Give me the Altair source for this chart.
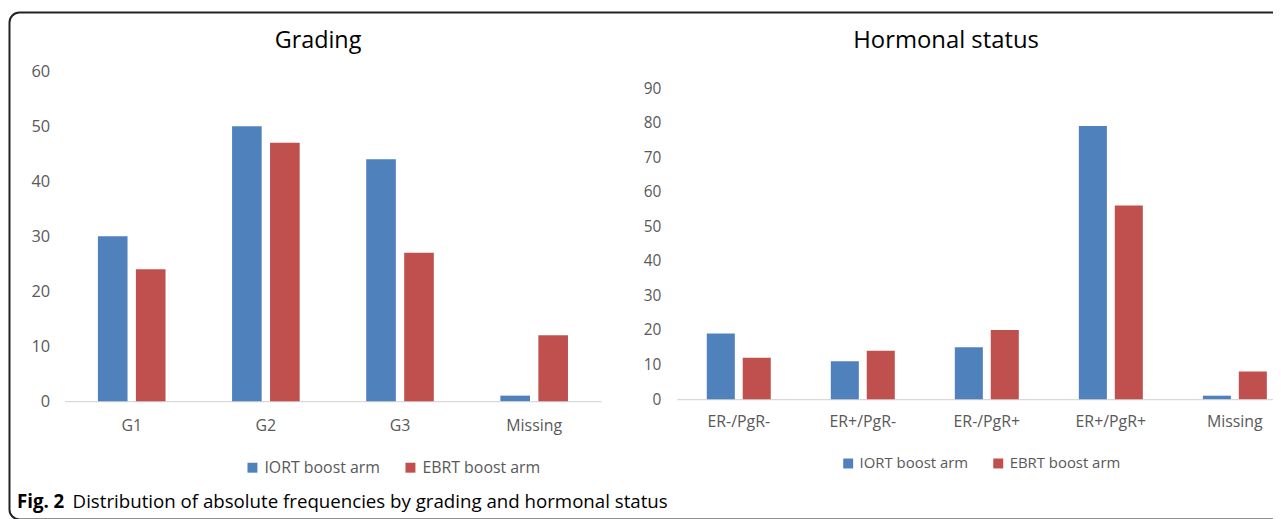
import altair as alt
import pandas as pd

# ---- data ----
ARMS = ["IORT boost arm", "EBRT boost arm"]
ARM_COLORS = ["#4F81BD", "#C0504D"]

GRADES = ["G1", "G2", "G3", "Missing"]
GRADE_IORT = [30, 50, 44, 1]
GRADE_EBRT = [24, 47, 27, 12]
GRADE_TICKS = [0, 10, 20, 30, 40, 50, 60]

HORMONES = ["ER-/PgR-", "ER+/PgR-", "ER-/PgR+", "ER+/PgR+", "Missing"]
HORM_IORT = [19, 11, 15, 79, 1]
HORM_EBRT = [12, 14, 20, 56, 8]
HORM_TICKS = [0, 10, 20, 30, 40, 50, 60, 70, 80, 90]

PANEL_TITLES = ["Grading", "Hormonal status"]
CAPTION_BOLD = ["Fig. 2"]
CAPTION_TEXT = ["Distribution of absolute frequencies by grading and hormonal status"]


def long_df(cats, a, b):
    rows = []
    for c, v in zip(cats, a):
        rows.append({"category": c, "arm": ARMS[0], "value": v})
    for c, v in zip(cats, b):
        rows.append({"category": c, "arm": ARMS[1], "value": v})
    return pd.DataFrame(rows)


grade_df = long_df(GRADES, GRADE_IORT, GRADE_EBRT)
horm_df = long_df(HORMONES, HORM_IORT, HORM_EBRT)

W, H = 1273, 511
FONT = "Open Sans"
LABEL = "#595959"


def panel(df, cats, ticks, xrange, yrange, ydomain, pin, xoff, yoff, xlab_pad, xlab_size,
          ylab_pad, ylab_size, leg_x, leg_y, leg_size, leg_pad):
    return alt.Chart(df).mark_bar().encode(
        x=alt.X("category:N", sort=cats,
                scale=alt.Scale(range=xrange, paddingInner=pin, paddingOuter=pin / 2),
                axis=alt.Axis(title=None, orient="bottom", offset=xoff, labelAngle=0,
                              labelPadding=xlab_pad, labelFontSize=xlab_size, labelFont=FONT,
                              labelColor=LABEL, ticks=False, tickSize=0,
                              domainColor="#D9D9D9", domainWidth=1.2, grid=False)),
        xOffset=alt.XOffset("arm:N", sort=ARMS,
                            scale=alt.Scale(paddingInner=0.22, paddingOuter=0)),
        y=alt.Y("value:Q",
                scale=alt.Scale(domain=ydomain, range=yrange, nice=False, zero=True),
                axis=alt.Axis(title=None, orient="left", offset=yoff, values=ticks,
                              labelPadding=ylab_pad, labelFontSize=ylab_size, labelFont=FONT,
                              labelColor=LABEL, ticks=False, tickSize=0, domain=False,
                              grid=False)),
        color=alt.Color("arm:N", sort=ARMS,
                        scale=alt.Scale(domain=ARMS, range=ARM_COLORS),
                        legend=alt.Legend(title=None, orient="none", legendX=leg_x, legendY=leg_y,
                                          direction="horizontal", symbolType="square",
                                          symbolSize=100, symbolStrokeWidth=0,
                                          labelFont=FONT, labelFontSize=leg_size,
                                          labelColor=LABEL, labelOffset=4,
                                          columnPadding=leg_pad, padding=0)),
    )


left = panel(grade_df, GRADES, GRADE_TICKS, [57, 597], [394, 62], [0, 60], 0.496,
             394 - H, -57, 17, 16, 15, 16.5, 238, 453, 16, 22)
right = panel(horm_df, HORMONES, HORM_TICKS, [673, 1297], [392, 79], [0, 90], 0.484,
              392 - H, -669, 15, 16, 12, 15.5, 838, 449, 15, 22)

border = alt.Chart(pd.DataFrame({"k": [0]})).mark_rect(
    fill="transparent", stroke="#222222", strokeWidth=2, cornerRadius=10
).encode(x=alt.value(1.5), x2=alt.value(1400), y=alt.value(3), y2=alt.value(513))

title_l = alt.Chart(pd.DataFrame({"t": [PANEL_TITLES[0]]})).mark_text(
    font=FONT, fontSize=23.5, color="#000000", align="center", baseline="middle"
).encode(text="t:N", x=alt.value(312), y=alt.value(32))

title_r = alt.Chart(pd.DataFrame({"t": [PANEL_TITLES[1]]})).mark_text(
    font=FONT, fontSize=24, color="#000000", align="center", baseline="middle"
).encode(text="t:N", x=alt.value(944), y=alt.value(32))

cap_b = alt.Chart(pd.DataFrame({"t": CAPTION_BOLD})).mark_text(
    font=FONT, fontSize=18.8, fontWeight="bold", color="#000000", align="left", baseline="middle"
).encode(text="t:N", x=alt.value(9), y=alt.value(496))

cap_t = alt.Chart(pd.DataFrame({"t": CAPTION_TEXT})).mark_text(
    font=FONT, fontSize=18.8, color="#000000", align="left", baseline="middle"
).encode(text="t:N", x=alt.value(65), y=alt.value(496))

chart = alt.layer(border, left, right, title_l, title_r, cap_b, cap_t).resolve_scale(
    x="independent", y="independent", xOffset="independent", color="independent"
).properties(
    width=W, height=H, padding=0, autosize=alt.AutoSizeParams(type="none")
).configure_view(strokeWidth=0)

chart.save("out.html", embed_options={"renderer": "svg", "actions": False})
